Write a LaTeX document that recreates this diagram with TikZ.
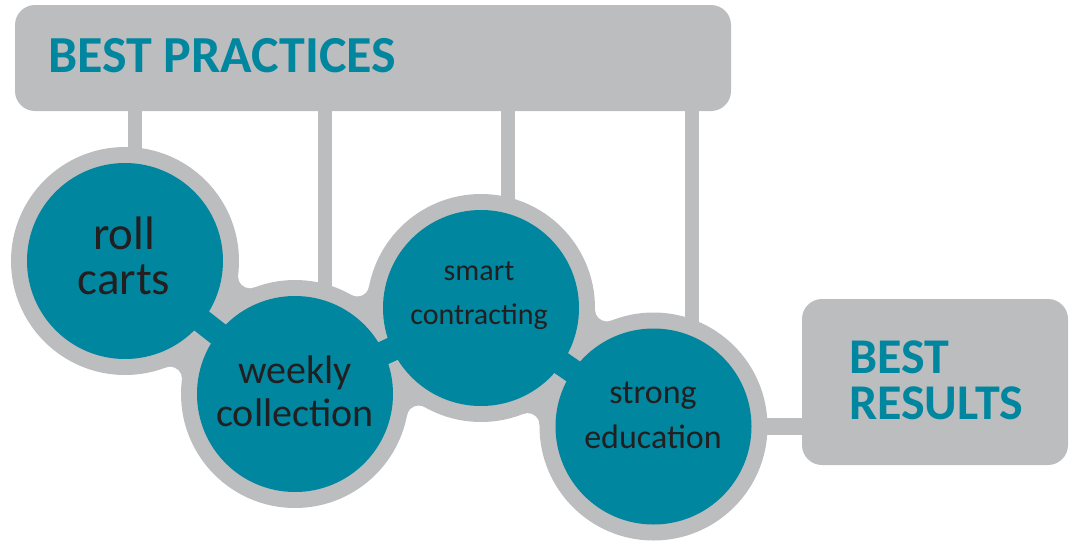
\documentclass[tikz,border=0pt]{standalone}
\usepackage{fontspec}
\setmainfont{Carlito}
\usetikzlibrary{calc}
\definecolor{tealc}{HTML}{00869E}
\definecolor{greyc}{HTML}{BCBDBF}
\definecolor{txtc}{HTML}{231F20}
\tikzset{
  greyball/.style={circle, fill=greyc, draw=none, minimum size=228pt, inner sep=0pt},
  tealball/.style={circle, fill=tealc, draw=none, minimum size=196pt, inner sep=0pt},
  stem/.style={draw=greyc, line width=14pt},
  band/.style={draw=tealc, line width=24pt},
  gbox/.style={rectangle, rounded corners=20pt, fill=greyc, draw=none, inner sep=0pt},
  lbl/.style={anchor=base, inner sep=0pt, text=txtc},
  head/.style={inner sep=0pt, text=tealc, font=\bfseries},
}
\begin{document}
\begin{tikzpicture}[x=1pt,y=-1pt]
\useasboundingbox (0,0) rectangle (1074,542);
% boxes
\node[gbox, minimum width=716pt, minimum height=106pt] (bp) at (373,58) {};
\node[gbox, minimum width=266pt, minimum height=166pt] (br) at (935,382) {};
% stem x positions
\coordinate (s1) at (135,0);
\coordinate (s2) at (325,0);
\coordinate (s3) at (508,0);
\coordinate (s4) at (692,0);
% circle centres
\coordinate (p1) at (125,261);
\coordinate (p2) at (295,394);
\coordinate (p3) at (481,308);
\coordinate (p4) at (653.5,426.5);
% stems
\draw[stem] (bp.south -| s1) -- (p1 -| s1);
\draw[stem] (bp.south -| s2) -- (p2 -| s2);
\draw[stem] (bp.south -| s3) -- (p3 -| s3);
\draw[stem] (bp.south -| s4) -- (p4 -| s4);
% fillets
\coordinate (f12a) at (169.93,378.72);
\coordinate (f12b) at (250.07,276.28);
\coordinate (f23a) at (418.78,417.56);
\coordinate (f23b) at (357.22,284.44);
\coordinate (f34a) at (527.51,425.11);
\coordinate (f34b) at (606.99,309.39);
\fill[greyc] (p1) -- (f12a) -- (p2) -- (f12b) -- cycle;
\fill[greyc] (p2) -- (f23a) -- (p3) -- (f23b) -- cycle;
\fill[greyc] (p3) -- (f34a) -- (p4) -- (f34b) -- cycle;
\fill[white] (f12a) circle[radius=12pt] (f12b) circle[radius=12pt]
             (f23a) circle[radius=12pt] (f23b) circle[radius=12pt]
             (f34a) circle[radius=12pt] (f34b) circle[radius=12pt];
% grey balls
\node[greyball] (g1) at (p1) {};
\node[greyball] (g2) at (p2) {};
\node[greyball] (g3) at (p3) {};
\node[greyball] (g4) at (p4) {};
% bar to results
\draw[draw=greyc, line width=17pt] (g4.center) -- (g4.center -| br.west);
% teal bands
\draw[band] (p1) -- (p2);
\draw[band] (p2) -- (p3);
\draw[band] (p3) -- (p4);
% teal balls
\node[tealball] (c1) at (p1) {};
\node[tealball] (c2) at (p2) {};
\node[tealball] (c3) at (p3) {};
\node[tealball] (c4) at (p4) {};
% labels
\node[lbl, font=\fontsize{47}{45}\selectfont] (t1) at (124,249) {\begin{tabular}[t]{@{}c@{}}roll\\carts\end{tabular}};
\node[lbl, font=\fontsize{40}{43.5}\selectfont] (t2) at (295,383) {\begin{tabular}[t]{@{}c@{}}weekly\\collection\end{tabular}};
\node[lbl, font=\fontsize{30}{44}\selectfont] (t3) at (479,280) {\begin{tabular}[t]{@{}c@{}}smart\\contracting\end{tabular}};
\node[lbl, font=\fontsize{34}{45}\selectfont] (t4) at (653,403) {\begin{tabular}[t]{@{}c@{}}strong\\education\end{tabular}};
% headings
\node[head, anchor=base west, font=\fontsize{52}{52}\selectfont\bfseries] (ht) at (48,72) {BEST PRACTICES};
\node[head, anchor=base west, font=\fontsize{50}{46}\selectfont\bfseries] (rt) at (849,373) {\begin{tabular}[t]{@{}l@{}}BEST\\RESULTS\end{tabular}};
\end{tikzpicture}
\end{document}
